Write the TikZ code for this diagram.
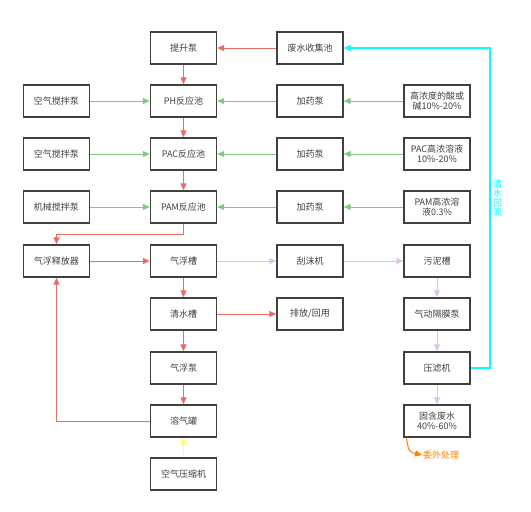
\documentclass[tikz,border=0pt]{standalone}
\usepackage{fontspec}
\setmainfont{Noto Sans CJK SC}
\usetikzlibrary{arrows.meta,positioning,calc}
\definecolor{BoxClr}{RGB}{64,64,64}
\definecolor{FlowClr}{RGB}{234,107,102}
\definecolor{DoseClr}{RGB}{130,200,130}
\definecolor{SludgeClr}{RGB}{226,190,240}
\definecolor{BackClr}{RGB}{0,255,255}
\definecolor{AirClr}{RGB}{255,255,102}
\definecolor{OutClr}{RGB}{255,128,0}
\tikzset{
  unit/.style={draw=BoxClr,line width=1.4pt,fill=white,minimum width=66pt,
    minimum height=32pt,inner sep=1pt,align=center,font=\fontsize{9}{10}\selectfont,
    text=black!75},
  flow/.style={line width=1pt,-{Triangle[length=7pt,width=6pt]}},
}

\begin{document}
\begin{tikzpicture}[x=1pt,y=-1pt]
\useasboundingbox (0,0) rectangle (531,512);

% main line
\node[unit] (tsb) at (183.5,48) {提升泵};
\node[unit] (fs)  at (310,48)   {废水收集池};
\node[unit] (ph)  at (183.5,101) {PH反应池};
\node[unit] (pac) at (183.5,154) {PAC反应池};
\node[unit] (pam) at (183.5,207) {PAM反应池};
\node[unit] (qfc) at (183.5,261) {气浮槽};
\node[unit] (qsc) at (183.5,314) {清水槽};
\node[unit] (qfb) at (183.5,368) {气浮泵};
\node[unit] (rqg) at (183.5,421) {溶气罐};
\node[unit] (kys) at (183.5,474) {空气压缩机};

% left column
\node[unit] (jb1) at (56.5,101) {空气搅拌泵};
\node[unit] (jb2) at (56.5,154) {空气搅拌泵};
\node[unit] (jb3) at (56.5,207) {机械搅拌泵};
\node[unit] (sfq) at (56.5,261) {气浮释放器};

% dosing
\node[unit] (jy1) at (310,101) {加药泵};
\node[unit] (jy2) at (310,154) {加药泵};
\node[unit] (jy3) at (310,207) {加药泵};
\node[unit] (yj1) at (437,101) {高浓度的酸或\\碱10\%-20\%};
\node[unit] (yj2) at (437,154) {PAC高浓溶液\\10\%-20\%};
\node[unit] (yj3) at (437,207) {PAM高浓溶\\液0.3\%};

% sludge line
\node[unit] (gmj) at (310,261) {刮沫机};
\node[unit] (pf)  at (310,314) {排放/回用};
\node[unit] (wnc) at (437,261) {污泥槽};
\node[unit] (gdb) at (437,314) {气动隔膜泵};
\node[unit] (ylj) at (437,368) {压滤机};
\node[unit] (gh)  at (437,421) {固含废水\\40\%-60\%};

% water flow
\draw[flow,FlowClr] (fs) -- (tsb);
\draw[flow,FlowClr] (tsb) -- (ph);
\draw[flow,FlowClr] (ph) -- (pac);
\draw[flow,FlowClr] (pac) -- (pam);
\draw[flow,FlowClr] (pam.south) -- ++(0,11) -| (sfq.north);
\draw[flow,FlowClr] (sfq) -- (qfc);
\draw[flow,FlowClr] (qfc) -- (qsc);
\draw[flow,FlowClr] (qsc) -- (qfb);
\draw[flow,FlowClr] (qfb) -- (rqg);
\draw[flow,FlowClr] (qsc) -- (pf);
\draw[flow,FlowClr] (rqg.west) -| (sfq.south);

% dosing and stirring
\foreach \a/\b in {jb1/ph,jb2/pac,jb3/pam,jy1/ph,jy2/pac,jy3/pam,yj1/jy1,yj2/jy2,yj3/jy3}
  \draw[flow,DoseClr] (\a) -- (\b);

% air
\draw[flow,AirClr] (kys) -- (rqg);

% sludge
\draw[flow,SludgeClr] (qfc) -- (gmj);
\draw[flow,SludgeClr] (gmj) -- (wnc);
\draw[flow,SludgeClr] (wnc) -- (gdb);
\draw[flow,SludgeClr] (gdb) -- (ylj);
\draw[flow,SludgeClr] (ylj) -- (gh);

% filtrate back
\coordinate (ret) at (490,48);
\draw[flow,BackClr,line width=2pt] (ylj.east) -| (ret) -- (fs.east);
\node[text=BackClr,align=center,font=\fontsize{9}{9.5}\selectfont] (lbl) at (497.5,198) {清\\水\\回\\流};

% outsourcing
\coordinate (wt) at (422,455);
\draw[line width=1pt,OutClr,-{Triangle[length=7pt,width=6pt]}] ($(gh.south west)+(3,0)$) .. controls (409,452) .. (wt);
\node[text=OutClr,anchor=west,inner sep=1pt,font=\fontsize{9}{10}\selectfont] (wwcl) at (wt) {委外处理};

\end{tikzpicture}
\end{document}
